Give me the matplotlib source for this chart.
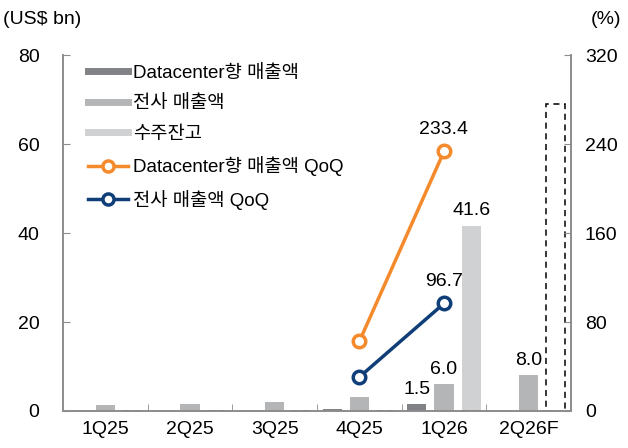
import numpy as np
import matplotlib
matplotlib.use("Agg")
import matplotlib.pyplot as plt
from matplotlib.lines import Line2D

plt.rcParams['font.family'] = ['Liberation Sans', 'Noto Sans CJK KR', 'DejaVu Sans']

# data
quarters = ['1Q25', '2Q25', '3Q25', '4Q25', '1Q26', '2Q26F']
dc_rev = [0, 0, 0, 0.45, 1.5, 0]
total_rev = [1.3, 1.5, 2.0, 3.05, 6.0, 8.0]
backlog = [0, 0, 0, 0, 41.6, 0]
backlog_est = [0, 0, 0, 0, 0, 69.0]
dc_qoq = [np.nan, np.nan, np.nan, 62.5, 233.4, np.nan]
total_qoq = [np.nan, np.nan, np.nan, 30.5, 96.7, np.nan]

c_dc = '#808285'
c_tot = '#b4b5b7'
c_bl = '#d0d1d3'
c_org = '#f58a2c'
c_navy = '#0f3e78'
c_spine = '#8c8c8c'

fig = plt.figure(figsize=(6.28, 4.48), dpi=100)
ax = fig.add_axes([0.1003, 0.0826, 0.8089, 0.7944])
ax2 = ax.twinx()

x = np.arange(len(quarters))
w = 0.225
off = 0.32
ax.bar(x - off, dc_rev, w, color=c_dc, zorder=2)
ax.bar(x, total_rev, w, color=c_tot, zorder=2)
ax.bar(x + off, backlog, w, color=c_bl, zorder=2)
ax.bar(x + off, backlog_est, w, facecolor='none', edgecolor='black',
       linestyle=(0, (4, 3)), linewidth=1.1, zorder=2)

ax2.plot(x, dc_qoq, color=c_org, lw=2.5, marker='o', ms=9, mfc='white',
         mew=2.5, zorder=3)
ax2.plot(x, total_qoq, color=c_navy, lw=2.5, marker='o', ms=9, mfc='white',
         mew=2.5, zorder=3)

fs = 14
ax.set_xlim(-0.5, 5.5)
ax.set_ylim(0, 80)
ax.set_yticks([0, 20, 40, 60, 80])
ax2.set_ylim(0, 320)
ax2.set_yticks([0, 80, 160, 240, 320])
ax.set_xticks(x)
ax.set_xticklabels(quarters, fontsize=fs)
ax.set_xticks(np.arange(0.5, 5.5, 1), minor=True)
ax.tick_params(axis='x', which='major', length=0, pad=7)
ax.tick_params(axis='x', which='minor', direction='in', length=5, color=c_spine)
ax.tick_params(axis='y', direction='in', length=5, color=c_spine, labelsize=fs, pad=17)
ax2.tick_params(axis='y', direction='in', length=5, color=c_spine, labelsize=fs, pad=10)
for a in (ax, ax2):
    a.spines['top'].set_visible(False)
    for s in ('left', 'right', 'bottom'):
        a.spines[s].set_color(c_spine)
        a.spines[s].set_linewidth(1.2)

# value labels
lab = dict(fontsize=fs, ha='center', va='bottom')
ax.text(4 - off, dc_rev[4] + 1.5, '1.5', **lab)
ax.text(4, total_rev[4] + 1.5, '6.0', **lab)
ax.text(4 + off, backlog[4] + 1.5, '41.6', **lab)
ax.text(5, total_rev[5] + 1.5, '8.0', **lab)
ax2.text(4, dc_qoq[4] + 12, '233.4', **lab)
ax2.text(4, total_qoq[4] + 12, '96.7', **lab)

fig.text(0.005, 0.975, '(US$ bn)', fontsize=fs, ha='left', va='top')
fig.text(0.99, 0.975, '(%)', fontsize=fs, ha='right', va='top')

handles = [
    Line2D([], [], color=c_dc, lw=5),
    Line2D([], [], color=c_tot, lw=5),
    Line2D([], [], color=c_bl, lw=5),
    Line2D([], [], color=c_org, lw=2.5, marker='o', ms=8, mfc='white', mew=2.5),
    Line2D([], [], color=c_navy, lw=2.5, marker='o', ms=8, mfc='white', mew=2.5),
]
labels = ['Datacenter향 매출액', '전사 매출액', '수주잔고',
          'Datacenter향 매출액 QoQ', '전사 매출액 QoQ']
ax.legend(handles, labels, loc='upper left', bbox_to_anchor=(0.03, 1.0),
          frameon=False, fontsize=13.5, handlelength=2.15, handletextpad=0.27,
          labelspacing=0.72, borderaxespad=0.1)

fig.savefig('out.png', dpi=100)
